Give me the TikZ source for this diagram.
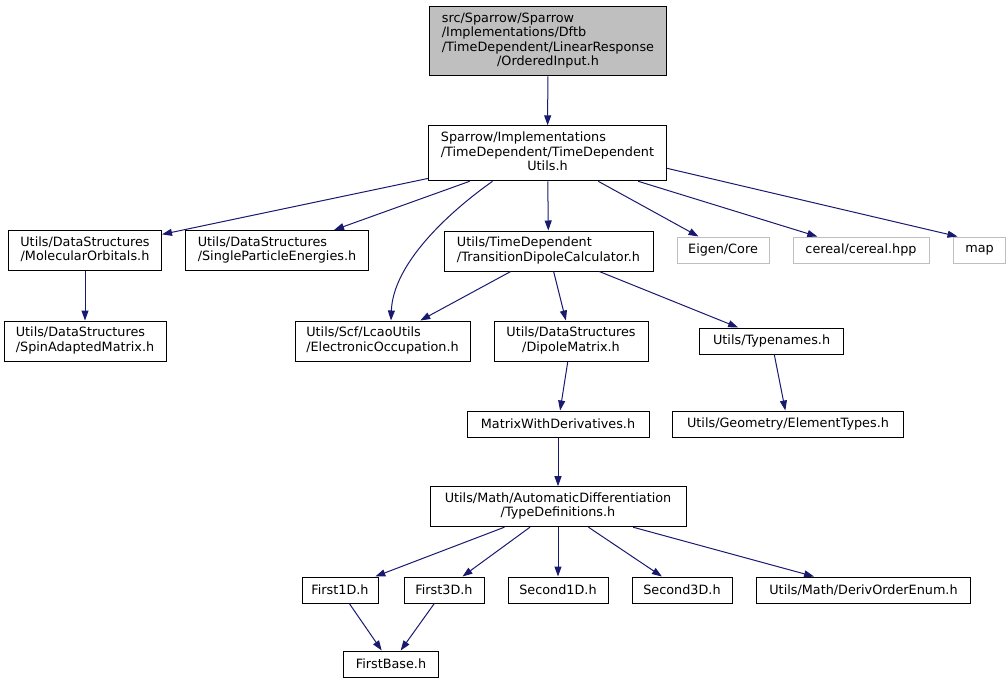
\documentclass[tikz,border=0pt]{standalone}
\usepackage{fontspec}
\setmainfont{DejaVu Sans}
\usepackage{tikz}
\usetikzlibrary{arrows.meta,calc}
\definecolor{edgeblue}{HTML}{191970}
\definecolor{grey75}{HTML}{BFBFBF}
\newcommand{\lbl}[2]{\begin{tabular}{@{}l@{}}#1\\\multicolumn{1}{@{}c@{}}{#2}\end{tabular}}
\tikzset{
  >={Triangle[length=10pt,width=7pt]},
  f/.style={rectangle,draw,line width=1pt,inner sep=0pt,fill=white},
  ext/.style={f,draw=grey75},
  e/.style={->,draw=edgeblue,line width=1pt},
  every node/.style={font=\fontsize{12.8}{14.5}\selectfont},
}
\begin{document}
\begin{tikzpicture}[x=1pt,y=-1pt]
\useasboundingbox (0,0) rectangle (1008,683);
\node[f,fill=grey75,minimum width=237,minimum height=69] (top) at (548,41.3)
  {\lbl{src/Sparrow/Sparrow\\/Implementations/Dftb\\/TimeDependent/LinearResponse}{/OrderedInput.h}};
\node[f,minimum width=238,minimum height=55] (tdu) at (547.5,153.3)
  {\lbl{Sparrow/Implementations\\/TimeDependent/TimeDependent}{Utils.h}};
\node[f,minimum width=153,minimum height=40] (mo) at (85,250.5){\lbl{Utils/DataStructures}{/MolecularOrbitals.h}};
\node[f,minimum width=183,minimum height=40] (spe) at (277,250.5){\lbl{Utils/DataStructures}{/SingleParticleEnergies.h}};
\node[f,minimum width=209,minimum height=40] (tdc) at (548.5,251){\lbl{Utils/TimeDependent}{/TransitionDipoleCalculator.h}};
\node[ext,minimum width=92,minimum height=26] (eig) at (723,250){Eigen/Core};
\node[ext,minimum width=136,minimum height=26] (cer) at (861,250){cereal/cereal.hpp};
\node[ext,minimum width=52,minimum height=26] (map) at (979.5,250){map};
\node[f,minimum width=162,minimum height=40] (sam) at (85,341){\lbl{Utils/DataStructures}{/SpinAdaptedMatrix.h}};
\node[f,minimum width=175,minimum height=40] (eo) at (382.5,341){\lbl{Utils/Scf/LcaoUtils}{/ElectronicOccupation.h}};
\node[f,minimum width=154,minimum height=40] (dm) at (571,341){\lbl{Utils/DataStructures}{/DipoleMatrix.h}};
\node[f,minimum width=144,minimum height=26] (tn) at (771.6,341){Utils/Typenames.h};
\node[f,minimum width=182,minimum height=26] (mwd) at (558,424){MatrixWithDerivatives.h};
\node[f,minimum width=231,minimum height=26] (et) at (788,424){Utils/Geometry/ElementTypes.h};
\node[f,minimum width=256,minimum height=40] (td) at (558,506.7){\lbl{Utils/Math/AutomaticDifferentiation}{/TypeDefinitions.h}};
\node[f,minimum width=76,minimum height=26] (f1) at (340,590){First1D.h};
\node[f,minimum width=80,minimum height=26] (f3) at (444,590){First3D.h};
\node[f,minimum width=100,minimum height=26] (s1) at (558,590){Second1D.h};
\node[f,minimum width=100,minimum height=26] (s3) at (682,590){Second3D.h};
\node[f,minimum width=214,minimum height=26] (doe) at (863.5,590){Utils/Math/DerivOrderEnum.h};
\node[f,minimum width=95,minimum height=26] (fb) at (391,664){FirstBase.h};
\draw[e] (top)--(tdu); \draw[e] (tdu)--(mo); \draw[e] (tdu)--(spe); \draw[e] (tdu)--(tdc);
\draw[e] ([xshift=-55pt]tdu.south) .. controls +(-48,34) and +(2,-55) .. ([xshift=8.5pt]eo.north);
\draw[e] (tdu)--(eig); \draw[e] (tdu)--(cer); \draw[e] ([yshift=-15pt]tdu.east)--([xshift=4.5pt]map.north west);
\draw[e] (mo)--(sam); \draw[e] (tdc)--(eo); \draw[e] (tdc)--(dm); \draw[e] (tdc)--(tn);
\draw[e] (dm)--(mwd); \draw[e] (tn)--(et); \draw[e] (mwd)--(td);
\draw[e] (td)--(f1); \draw[e] (td)--(f3); \draw[e] (td)--(s1); \draw[e] (td)--(s3); \draw[e] (td)--(doe);
\draw[e] (f1)--(fb); \draw[e] (f3)--(fb);
\end{tikzpicture}
\end{document}
